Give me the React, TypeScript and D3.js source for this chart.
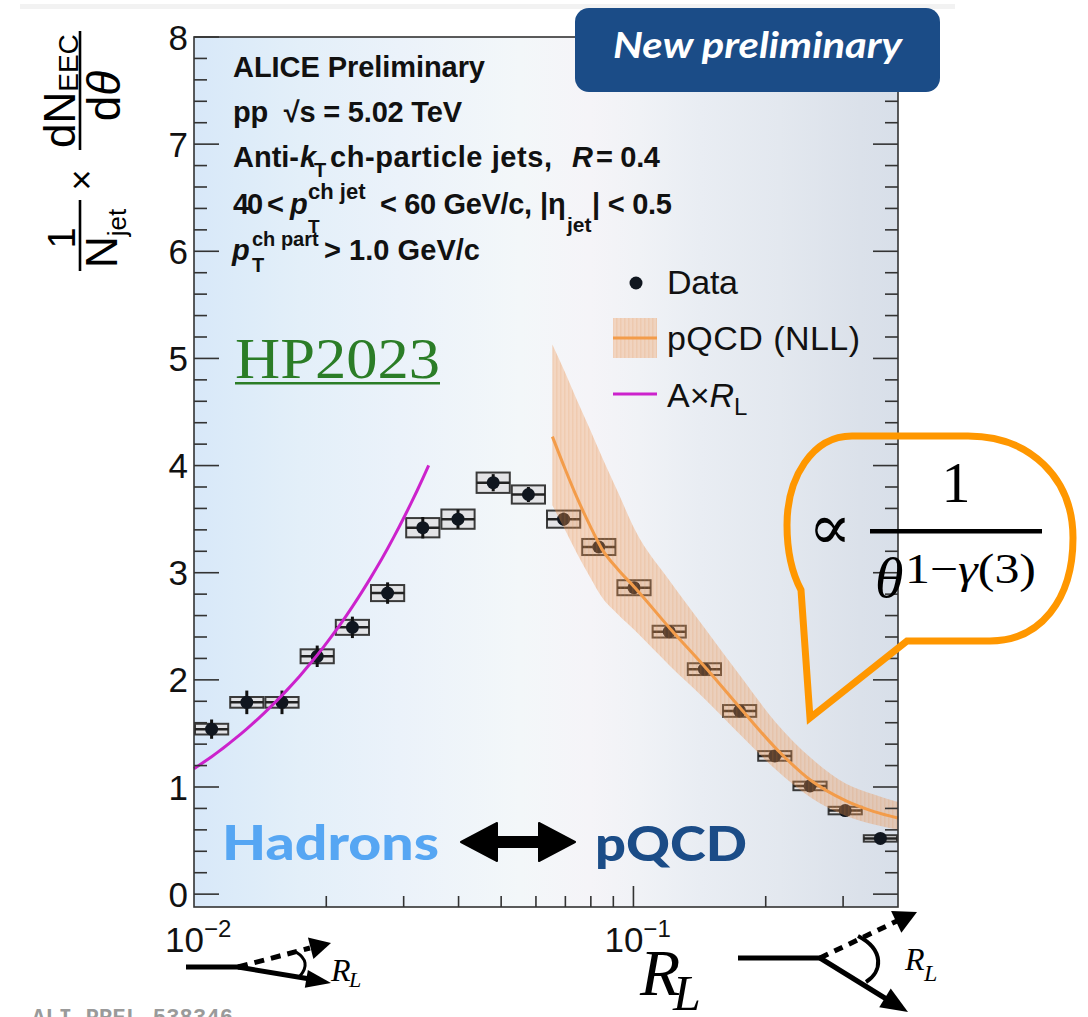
import React from "react";
import * as d3 from "d3";

// Logarithmic R_L binning (20 bins between 0.01 and 0.4)
const binEdges = [
  0.01, 0.012026, 0.014461, 0.01739, 0.020913, 0.025149, 0.030242, 0.036368,
  0.043734, 0.052592, 0.063245, 0.076055, 0.09146, 0.10999, 0.13226, 0.15905,
  0.19127, 0.23001, 0.2766, 0.33262, 0.4,
];
// Measured EEC per bin
const eecValues = [
  1.54, 1.79, 1.79, 2.22, 2.49, 2.81, 3.42, 3.5, 3.84, 3.73, 3.5, 3.24, 2.86,
  2.45, 2.1, 1.71, 1.29, 1.01, 0.78, 0.52,
];
const statErr = [
  0.09, 0.11, 0.11, 0.1, 0.1, 0.1, 0.1, 0.09, 0.08, 0.07, 0.06, 0.05, 0.05,
  0.045, 0.04, 0.035, 0.03, 0.03, 0.025, 0.02,
];
const sysErr = [
  0.05, 0.05, 0.05, 0.065, 0.07, 0.075, 0.09, 0.09, 0.095, 0.085, 0.08, 0.075,
  0.07, 0.055, 0.055, 0.055, 0.045, 0.04, 0.035, 0.03,
];

// pQCD (NLL) prediction: central curve and uncertainty band
const pqcdR = [0.0654, 0.06987, 0.0744, 0.07963, 0.08481, 0.09224, 0.1008, 0.1211, 0.1455, 0.1748, 0.2111, 0.2536, 0.3047, 0.3528, 0.4];
const pqcdMid = [4.27, 3.97, 3.7, 3.44, 3.22, 3.03, 2.86, 2.48, 2.12, 1.74, 1.36, 1.06, 0.87, 0.77, 0.71];
const pqcdHigh = [5.13, 4.87, 4.61, 4.34, 4.08, 3.75, 3.4, 2.92, 2.48, 2.04, 1.6, 1.27, 1.03, 0.93, 0.86];
const pqcdLow = [3.63, 3.4, 3.18, 2.96, 2.77, 2.61, 2.46, 2.13, 1.82, 1.49, 1.16, 0.9, 0.73, 0.65, 0.6];

// Linear small-angle model A x R_L
const linearA = 117;
const linearRange = [0.01, 0.0342];

const yTickLabels = ["0", "1", "2", "3", "4", "5", "6", "7", "8"];
const xDecades = [
  { value: 0.01, exponent: "−2" },
  { value: 0.1, exponent: "−1" },
];

const sans = "'Liberation Sans', Arial, Helvetica, sans-serif";
const serif = "'Liberation Serif', 'Times New Roman', 'DejaVu Serif', serif";
const humanist = "Lato, 'Open Sans', sans-serif";

const bgStops: [number, string][] = [
  [194, "#d8e8f9"], [235, "#dcebf9"], [300, "#e3eff9"], [400, "#ebf2fa"],
  [520, "#f3f7f9"], [590, "#f5f4f8"], [640, "#f0f2f6"], [700, "#e9edf3"],
  [780, "#e3e8ef"], [860, "#dbe1ea"], [898, "#d8dfe9"],
];

function arrowHead(sx: number, sy: number, tx: number, ty: number, len: number, half: number) {
  const dx = tx - sx, dy = ty - sy;
  const n = Math.hypot(dx, dy);
  const ux = dx / n, uy = dy / n;
  const bx = tx - ux * len, by = ty - uy * len;
  return `${tx},${ty} ${bx - uy * half},${by + ux * half} ${bx + uy * half},${by - ux * half}`;
}

export default function App() {
  const left = 194, right = 898, top = 37, bottom = 907;
  const x = d3.scaleLog().domain([0.01, 0.4]).range([left, right]);
  const y = d3.scaleLinear().domain([-0.12, 8]).range([bottom, top]);

  const bins = eecValues.map((v, i) => ({
    lo: binEdges[i],
    hi: binEdges[i + 1],
    c: Math.sqrt(binEdges[i] * binEdges[i + 1]),
    v,
    stat: statErr[i],
    sys: sysErr[i],
  }));

  const band = pqcdR.map((r, i) => ({ r, mid: pqcdMid[i], hi: pqcdHigh[i], lo: pqcdLow[i] }));
  const bandArea = d3
    .area<{ r: number; hi: number; lo: number }>()
    .x((d) => x(d.r))
    .y0((d) => y(d.lo))
    .y1((d) => y(d.hi))
    .curve(d3.curveMonotoneX)(band) as string;
  const midLine = d3
    .line<{ r: number; mid: number }>()
    .x((d) => x(d.r))
    .y((d) => y(d.mid))
    .curve(d3.curveMonotoneX)(band) as string;

  const linPts = d3.range(0, 41).map((i) => {
    const r = linearRange[0] * Math.pow(linearRange[1] / linearRange[0], i / 40);
    return [x(r), y(linearA * r)] as [number, number];
  });
  const linLine = d3.line()(linPts) as string;

  const yMinor = d3.range(0, 41).map((i) => i * 0.2).filter((v) => Math.abs(v - Math.round(v)) > 1e-6);
  const yMajor = d3.range(0, 9);
  const xTicks = x.ticks().filter((t) => t > 0.0101 && t < 0.399);

  const orange = "#f39c4a";
  const magenta = "#cc22cc";

  return (
    <svg width={1088} height={1017} style={{ position: "absolute", left: 0, top: 0, background: "#fff" }}>
      <defs>
        <linearGradient id="plotBg" gradientUnits="userSpaceOnUse" x1={left} x2={right} y1={0} y2={0}>
          {bgStops.map(([px, col], i) => (
            <stop key={i} offset={(px - left) / (right - left)} stopColor={col} />
          ))}
        </linearGradient>
        <pattern id="bandFill" width={4} height={10} patternUnits="userSpaceOnUse">
          <rect width={4} height={10} fill="rgba(240,150,80,0.33)" />
          <rect width={1.5} height={10} fill="rgba(225,130,60,0.12)" />
        </pattern>
      </defs>

      <rect x={20} y={4} width={935} height={5} fill="#f2f2f2" />

      {/* plot area */}
      <rect x={left} y={top} width={right - left} height={bottom - top} fill="url(#plotBg)" />

      {/* data: systematic boxes, stat bars, markers */}
      {bins.map((b, i) => (
        <g key={i}>
          <rect
            x={x(b.lo) + 1}
            y={y(b.v + b.sys)}
            width={x(b.hi) - x(b.lo) - 2}
            height={y(b.v - b.sys) - y(b.v + b.sys)}
            fill="#e1e1e3"
            fillOpacity={0.9}
            stroke="#3a3a3a"
            strokeWidth={2}
          />
          <line x1={x(b.lo) + 1} x2={x(b.hi) - 1} y1={y(b.v)} y2={y(b.v)} stroke="#222" strokeWidth={2.5} />
          <line x1={x(b.c)} x2={x(b.c)} y1={y(b.v + b.stat)} y2={y(b.v - b.stat)} stroke="#111" strokeWidth={3} />
          <circle cx={x(b.c)} cy={y(b.v)} r={6.5} fill="#10161f" />
        </g>
      ))}

      {/* pQCD band and curve */}
      <path d={bandArea} fill="url(#bandFill)" />
      <path d={midLine} fill="none" stroke={orange} strokeWidth={3} />

      {/* linear model */}
      <path d={linLine} fill="none" stroke={magenta} strokeWidth={3} />

      {/* frame and ticks */}
      <rect x={left} y={top} width={right - left} height={bottom - top} fill="none" stroke="#333" strokeWidth={1.6} />
      {yMajor.map((v) => (
        <g key={"ym" + v}>
          <line x1={left} x2={left + 25} y1={y(v)} y2={y(v)} stroke="#333" strokeWidth={1.6} />
          <line x1={right} x2={right - 25} y1={y(v)} y2={y(v)} stroke="#333" strokeWidth={1.6} />
        </g>
      ))}
      {yMinor.map((v, i) => (
        <g key={"yn" + i}>
          <line x1={left} x2={left + 13} y1={y(v)} y2={y(v)} stroke="#333" strokeWidth={1.6} />
          <line x1={right} x2={right - 13} y1={y(v)} y2={y(v)} stroke="#333" strokeWidth={1.6} />
        </g>
      ))}
      {xTicks.map((t, i) => {
        const major = Math.abs(t - 0.1) < 1e-9;
        return (
          <line key={"xt" + i} x1={x(t)} x2={x(t)} y1={bottom} y2={bottom - (major ? 21 : 11)} stroke="#333" strokeWidth={1.6} />
        );
      })}

      {/* tick labels */}
      <g fontFamily={sans} fontSize={35} fill="#111">
        {yTickLabels.map((lab, i) => (
          <text key={lab} x={188} y={y(i) + 12.5} textAnchor="end">
            {lab}
          </text>
        ))}
        {xDecades.map((d) => (
          <text key={d.exponent} x={x(d.value) - 29} y={952}>
            10
            <tspan dy={-15} fontSize={24}>
              {d.exponent}
            </tspan>
          </text>
        ))}
      </g>

      {/* y-axis title */}
      <g transform="translate(80,150) rotate(-90)" fontFamily={sans} fill="#000">
        <text x={-88} y={-5} fontSize={38} textAnchor="middle">1</text>
        <line x1={-121} x2={-50} y1={0} y2={0} stroke="#000" strokeWidth={2.6} />
        <text x={-118} y={37} fontSize={44}>
          N<tspan dy={9} fontSize={26}>jet</tspan>
        </text>
        <text x={-30} y={13.5} fontSize={36} textAnchor="middle">×</text>
        <line x1={0} x2={119} y1={0} y2={0} stroke="#000" strokeWidth={2.6} />
        <text x={2} y={-5} fontSize={44}>
          dN<tspan dy={3} fontSize={28}>EEC</tspan>
        </text>
        <text x={54} y={40} fontSize={46} textAnchor="middle">
          d<tspan fontStyle="italic">θ</tspan>
        </text>
      </g>

      {/* header text */}
      <g fontFamily={sans} fontWeight="bold" fontSize={29} fill="#111">
        <text x={233} y={77} textLength={252}>ALICE Preliminary</text>
        <text x={233} y={122} textLength={229} style={{ whiteSpace: "pre" }}>pp  √s = 5.02 TeV</text>
        <text x={233} y={167}>Anti-</text>
        <text x={300} y={167} fontStyle="italic">k</text>
        <text x={314} y={177} fontSize={20}>T</text>
        <text x={330} y={167} textLength={222}>ch-particle jets,</text>
        <text x={572} y={167} fontStyle="italic">R</text>
        <text x={596} y={167} textLength={64} style={{ whiteSpace: "pre" }}>= 0.4</text>
        <text x={233} y={214} textLength={51} style={{ whiteSpace: "pre" }}>40 &lt;</text>
        <text x={290} y={214} fontStyle="italic">p</text>
        <text x={308} y={199} fontSize={22} style={{ whiteSpace: "pre" }}>ch jet</text>
        <text x={308} y={233} fontSize={19}>T</text>
        <text x={380} y={214} textLength={152} style={{ whiteSpace: "pre" }}>&lt; 60 GeV/c,</text>
        <text x={540} y={214}>|η</text>
        <text x={567} y={232} fontSize={21}>jet</text>
        <text x={592} y={214} textLength={80} style={{ whiteSpace: "pre" }}>| &lt; 0.5</text>
        <text x={232} y={260} fontStyle="italic">p</text>
        <text x={252} y={246} fontSize={20} style={{ whiteSpace: "pre" }}>ch part</text>
        <text x={252} y={272} fontSize={20}>T</text>
        <text x={324} y={260} textLength={156} style={{ whiteSpace: "pre" }}>&gt; 1.0 GeV/c</text>
      </g>

      {/* legend */}
      <g fontFamily={sans} fontSize={34} fill="#111">
        <circle cx={636} cy={283} r={6.5} fill="#10161f" />
        <text x={667} y={294} textLength={71}>Data</text>
        <rect x={613} y={318} width={44} height={40} fill="url(#bandFill)" />
        <line x1={613} x2={657} y1={338} y2={338} stroke={orange} strokeWidth={3} />
        <text x={667} y={350} textLength={193}>pQCD (NLL)</text>
        <line x1={613} x2={657} y1={394} y2={394} stroke={magenta} strokeWidth={3} />
        <text x={667} y={407}>
          A×<tspan fontStyle="italic">R</tspan>
          <tspan dy={8} fontSize={24}>L</tspan>
        </text>
      </g>

      {/* badge */}
      <rect x={575} y={8} width={365} height={84} rx={14} fill="#1b4c87" />
      <text x={613} y={58} fontFamily={humanist} fontStyle="italic" fontWeight={700} fontSize={37} fill="#fff" textLength={289} lengthAdjust="spacingAndGlyphs">
        New preliminary
      </text>

      <text x={235} y={378} fontFamily={serif} fontSize={58} fill="#2b7d27" textLength={205} lengthAdjust="spacingAndGlyphs">
        HP2023
      </text>
      <rect x={235} y={382} width={205} height={2.5} fill="#2b7d27" />

      {/* regime labels */}
      <text x={222} y={860} fontFamily={humanist} fontWeight={900} fontSize={48} fill="#56a6f3" textLength={217} lengthAdjust="spacingAndGlyphs">
        Hadrons
      </text>
      <polygon
        points="461,842 497,823 497,837 539,837 539,823 575,842 539,861 539,847 497,847 497,861"
        fill="#000"
        stroke="#000"
        strokeWidth={2}
        strokeLinejoin="round"
      />
      <text x={595} y={861} fontFamily={humanist} fontWeight={900} fontSize={48} fill="#1b4c87" textLength={152} lengthAdjust="spacingAndGlyphs">
        pQCD
      </text>

      {/* x-axis title */}
      <text x={640} y={995} fontFamily={serif} fontStyle="italic" fontSize={66} fill="#000">R</text>
      <text x={673} y={1010} fontFamily={serif} fontStyle="italic" fontSize={50} fill="#000">L</text>

      {/* small-angle pair sketch */}
      <g stroke="#000" strokeWidth={5} fill="none">
        <line x1={186} y1={967} x2={240} y2={967} />
        <line x1={238} y1={967} x2={310} y2={979} />
        <line x1={238} y1={967} x2={310} y2={948} strokeDasharray="10 7" />
        <path d="M 296,952 Q 312,962 300,976" strokeWidth={3} />
      </g>
      <polygon points={arrowHead(238, 967, 331, 983, 25, 9)} fill="#000" />
      <polygon points={arrowHead(238, 967, 331, 943, 21, 11)} fill="#000" />
      <text x={331} y={981} fontFamily={serif} fontStyle="italic" fontSize={32}>R</text>
      <text x={349} y={987} fontFamily={serif} fontStyle="italic" fontSize={22}>L</text>

      {/* wide-angle pair sketch */}
      <g stroke="#000" strokeWidth={5} fill="none">
        <line x1={738} y1={958} x2={822} y2={958} />
        <line x1={820} y1={958} x2={888} y2={1000} />
        <line x1={820} y1={958} x2={897} y2={921} strokeDasharray="9 7" />
        <path d="M 858,936 C 885,950 882,972 866,982" strokeWidth={4} />
      </g>
      <polygon points={arrowHead(820, 958, 908, 1012, 27, 11)} fill="#000" />
      <polygon points={arrowHead(820, 958, 917, 912, 23, 12)} fill="#000" />
      <text x={905} y={970} fontFamily={serif} fontStyle="italic" fontSize={32}>R</text>
      <text x={924} y={981} fontFamily={serif} fontStyle="italic" fontSize={24}>L</text>

      <text x={32} y={1024} fontFamily="'Liberation Mono', 'DejaVu Sans Mono', monospace" fontWeight="bold" fontSize={22} fill="#9a9a9a" textLength={201}>
        ALI-PREL-538346
      </text>

      {/* callout with scaling law */}
      <path
        d="M 801,590 L 810,718 L 907,641 L 990,641 C 1040,641 1073,600 1073,538 C 1073,478 1030,436 968,436 L 852,436 C 812,436 787,478 787,525 C 787,555 793,575 801,590 Z"
        fill="none"
        stroke="#ff9700"
        strokeWidth={7}
        strokeLinejoin="miter"
      />
      <text x={830} y={549} fontFamily={serif} fontSize={64} textAnchor="middle">∝</text>
      <rect x={870} y={529} width={172} height={4.5} fill="#000" />
      <text x={956} y={502} fontFamily={serif} fontSize={58} textAnchor="middle">1</text>
      <text x={875} y={597} fontFamily={serif} fontStyle="italic" fontSize={58}>θ</text>
      <text x={905} y={583} fontFamily={serif} fontSize={42} textLength={131} lengthAdjust="spacingAndGlyphs">
        1−<tspan fontStyle="italic">γ</tspan>(3)
      </text>
    </svg>
  );
}
